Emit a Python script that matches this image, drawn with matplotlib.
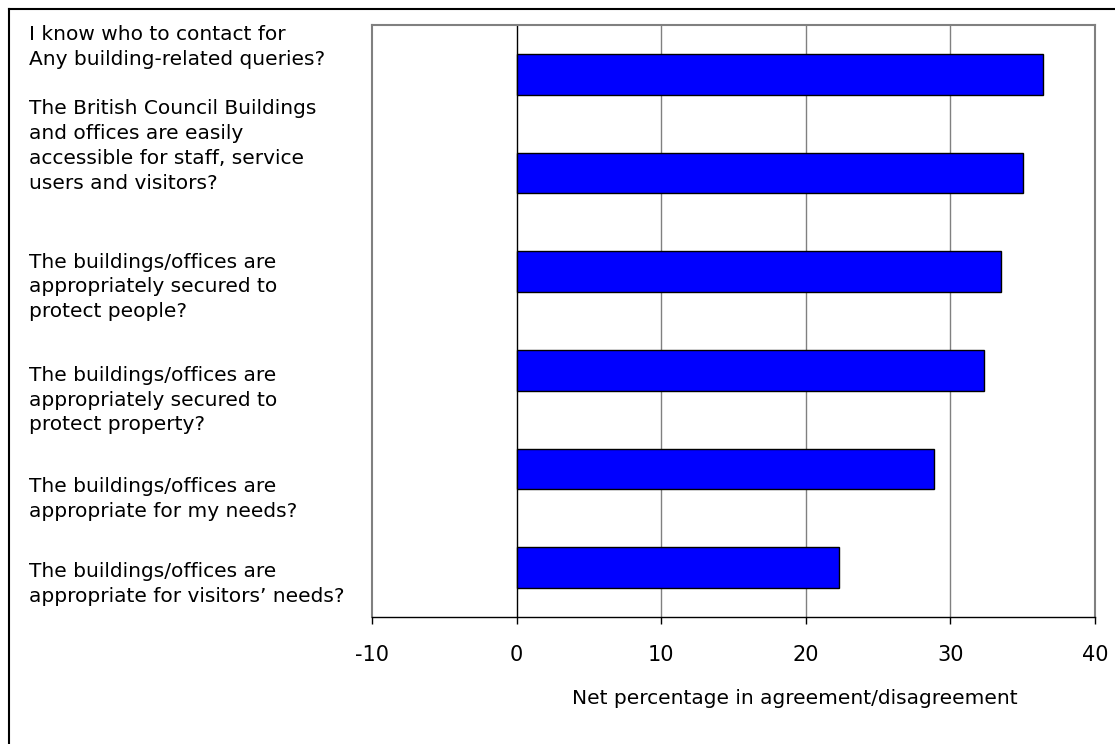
import matplotlib.pyplot as plt
from matplotlib.lines import Line2D

plt.rcParams['font.family'] = ['DejaVu Sans']

questions = [
    "I know who to contact for\nAny building-related queries?",
    "The British Council Buildings\nand offices are easily\naccessible for staff, service\nusers and visitors?",
    "The buildings/offices are\nappropriately secured to\nprotect people?",
    "The buildings/offices are\nappropriately secured to\nprotect property?",
    "The buildings/offices are\nappropriate for my needs?",
    "The buildings/offices are\nappropriate for visitors\u2019 needs?",
]
net_pct = [36.4, 35.0, 33.5, 32.3, 28.9, 22.3]
x_ticks = [-10, 0, 10, 20, 30, 40]

W, H = 1115, 744
fig = plt.figure(figsize=(W / 100, H / 100), dpi=100)
ax = fig.add_axes([372 / W, 1 - 617 / H, (1095 - 372) / W, (617 - 25) / H])

ypos = list(range(len(questions)))
ax.barh(ypos, net_pct, height=0.41, color='#0000FF', edgecolor='black', linewidth=1, zorder=3)

ax.set_xlim(-10, 40)
ax.set_ylim(len(questions) - 0.5, -0.5)
ax.set_xticks(x_ticks)
ax.set_xticklabels([str(t) for t in x_ticks], fontsize=15)
ax.set_yticks([])
ax.tick_params(axis='x', length=5, width=1, pad=15, color='black')

# vertical gridlines, zero line in black
for t in x_ticks[1:-1]:
    ax.axvline(t, color='black' if t == 0 else '#808080', linewidth=1, zorder=1)

for side in ['left', 'top', 'right']:
    ax.spines[side].set_color('#808080')
    ax.spines[side].set_linewidth(1.5)
ax.spines['bottom'].set_color('black')
ax.spines['bottom'].set_linewidth(1)

# question labels on the left, placed by their line-block centres (px)
label_centres = [47, 146, 287, 400, 499, 584]
for q, yc in zip(questions, label_centres):
    fig.text(29 / W, 1 - yc / H, q, ha='left', va='center', fontsize=14.5,
             linespacing=1.39)

fig.text(795 / W, 1 - 698 / H, "Net percentage in agreement/disagreement",
         ha='center', va='center', fontsize=14.5)

# outer chart border (left and top edges)
fig.add_artist(Line2D([8.5 / W, 8.5 / W], [0, 1 - 9 / H], transform=fig.transFigure,
                      color='black', linewidth=1.5))
fig.add_artist(Line2D([8.5 / W, 1], [1 - 9 / H, 1 - 9 / H], transform=fig.transFigure,
                      color='black', linewidth=1.5))

fig.savefig("out.png", dpi=100)
